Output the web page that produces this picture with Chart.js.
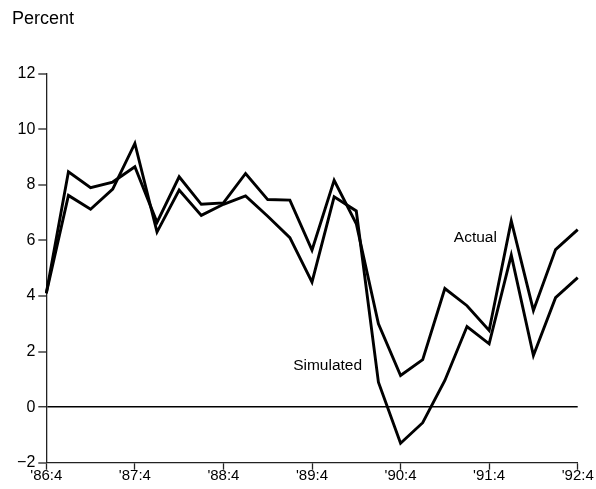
<!DOCTYPE html>
<html>
<head>
<meta charset="utf-8">
<script src="https://cdn.jsdelivr.net/npm/chart.js@4.4.1/dist/chart.umd.min.js"></script>
<style>
  html, body { margin: 0; padding: 0; background: #fff; }
  #wrap { position: relative; width: 596px; height: 489px; }
</style>
</head>
<body>
<div id="wrap"><canvas id="c"></canvas></div>
<script>
// Quarterly categories '86:4 .. '92:4
const quarters = ["'86:4","'87:1","'87:2","'87:3","'87:4","'88:1","'88:2","'88:3","'88:4",
                  "'89:1","'89:2","'89:3","'89:4","'90:1","'90:2","'90:3","'90:4",
                  "'91:1","'91:2","'91:3","'91:4","'92:1","'92:2","'92:3","'92:4"];
const actual    = [4.1, 8.47, 7.9, 8.1, 8.65, 6.65, 8.29, 7.3, 7.35, 8.41, 7.47, 7.45, 5.65,
                   8.16, 6.6, 3.0, 1.14, 1.71, 4.27, 3.65, 2.76, 6.7, 3.48, 5.67, 6.39];
const simulated = [4.1, 7.62, 7.12, 7.85, 9.49, 6.3, 7.81, 6.9, 7.3, 7.6, 6.87, 6.1, 4.5,
                   7.57, 7.06, 0.9, -1.3, -0.56, 0.96, 2.9, 2.28, 5.47, 1.86, 3.94, 4.66];
const yTicks = [-2, 0, 2, 4, 6, 8, 10, 12];
const unitLabel = "Percent";
const seriesNames = ["Actual", "Simulated"];

const FONT = "'Liberation Sans', Arial, Helvetica, sans-serif";

const annot = {
  id: 'annot',
  afterDraw(chart) {
    const ctx = chart.ctx;
    const xs = chart.scales.x, ys = chart.scales.y;
    const xAt = q => xs.getPixelForValue(0) + (xs.getPixelForValue(1) - xs.getPixelForValue(0)) * q;
    ctx.save();
    ctx.fillStyle = '#000';
    ctx.textBaseline = 'middle';
    ctx.font = "18px " + FONT;
    ctx.textAlign = 'left';
    ctx.fillText(unitLabel, 12, 19);
    ctx.font = "15.5px " + FONT;
    ctx.textAlign = 'right';
    ctx.fillText(seriesNames[0], xAt(20.35), ys.getPixelForValue(6.08));
    ctx.textAlign = 'left';
    ctx.fillText(seriesNames[1], xAt(11.15), ys.getPixelForValue(1.5));
    ctx.restore();
  }
};

new Chart(document.getElementById('c'), {
  type: 'line',
  data: {
    labels: quarters,
    datasets: [
      { label: seriesNames[0], data: actual, borderColor: '#000', borderWidth: 2.9,
        pointRadius: 0, tension: 0, fill: false, borderJoinStyle: 'miter' },
      { label: seriesNames[1], data: simulated, borderColor: '#000', borderWidth: 2.9,
        pointRadius: 0, tension: 0, fill: false, borderJoinStyle: 'miter' }
    ]
  },
  options: {
    responsive: true,
    maintainAspectRatio: false,
    animation: false,
    layout: { padding: { left: 0, right: 18.3, top: 73.7, bottom: 0 } },
    plugins: { legend: { display: false }, tooltip: { enabled: false }, title: { display: false } },
    scales: {
      x: {
        type: 'category',
        offset: false,
        afterFit(s) { s.height = 26.3; },
        border: { display: true, color: '#222', width: 1.3 },
        grid: {
          drawOnChartArea: false, drawTicks: true, tickLength: 7,
          tickColor: c => (c.index % 4 === 0 ? '#222' : 'rgba(0,0,0,0)'), tickWidth: 1.3
        },
        ticks: {
          autoSkip: false, maxRotation: 0, minRotation: 0, padding: -3,
          color: '#000', font: { family: FONT, size: 15 },
          callback: function(v, i) { return i % 4 === 0 ? quarters[i] : ''; }
        }
      },
      y: {
        min: -2, max: 12,
        afterFit(s) { s.width = 46.3; },
        afterBuildTicks(s) { s.ticks = yTicks.map(v => ({ value: v })); },
        border: { display: true, color: '#222', width: 1.3 },
        grid: {
          drawOnChartArea: true, drawTicks: true, tickLength: 8,
          color: c => (c.tick && c.tick.value === 0 ? '#000' : 'rgba(0,0,0,0)'),
          lineWidth: c => (c.tick && c.tick.value === 0 ? 1.5 : 0),
          tickColor: '#222', tickWidth: 1.3
        },
        ticks: {
          padding: 3, color: '#000', font: { family: FONT, size: 16 },
          callback: v => (v < 0 ? '\u2212' + Math.abs(v) : String(v))
        }
      }
    }
  },
  plugins: [annot]
});
</script>
</body>
</html>
